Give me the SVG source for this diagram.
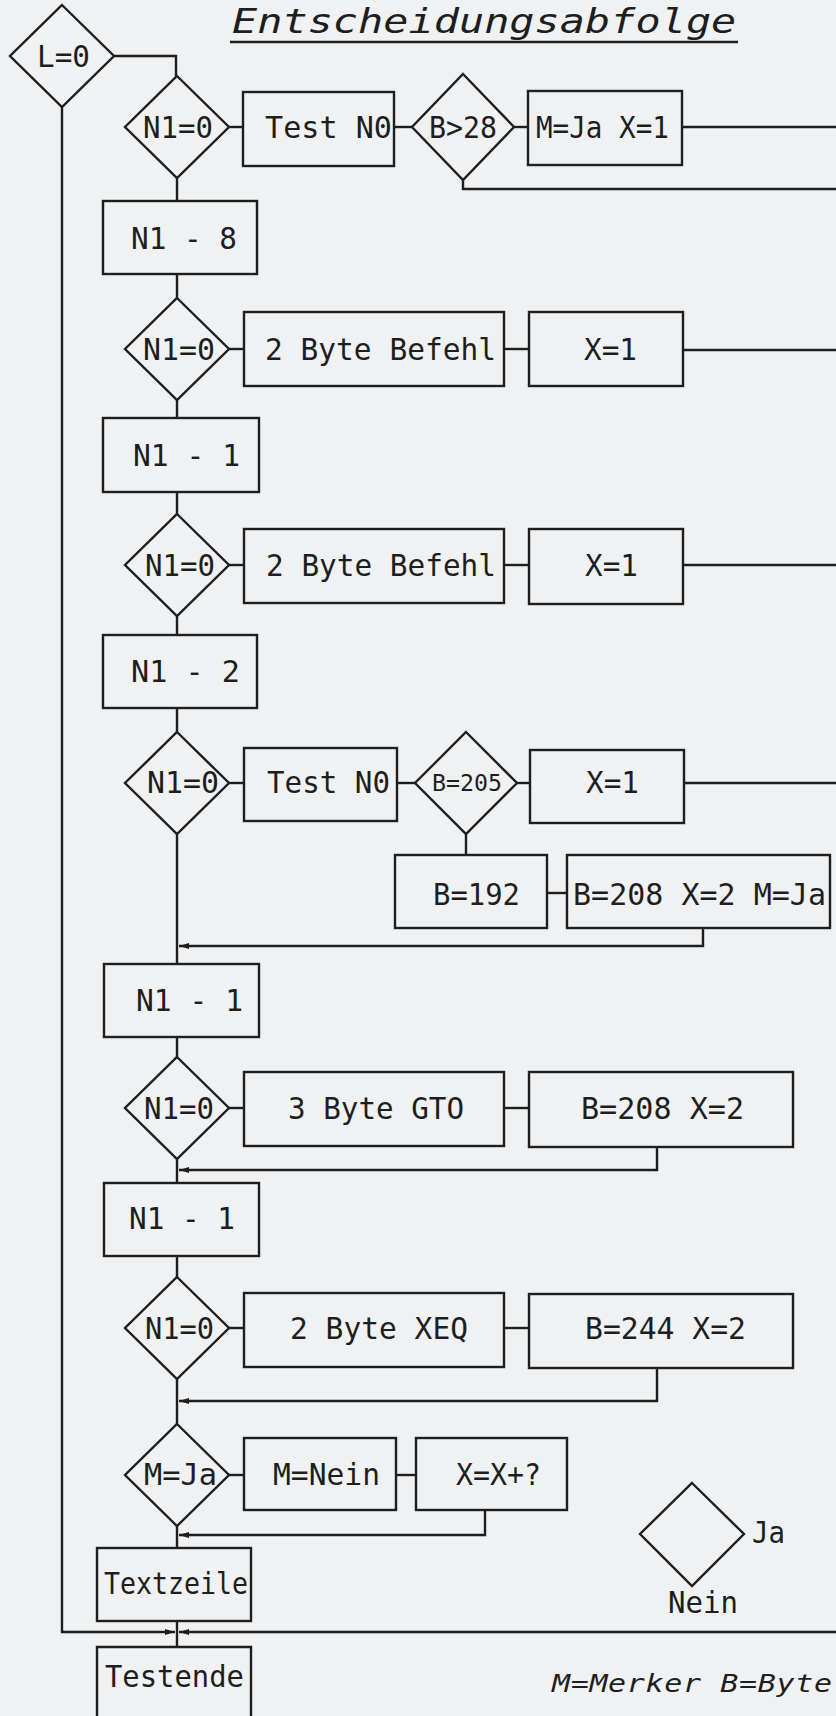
<svg xmlns="http://www.w3.org/2000/svg" width="836" height="1716" viewBox="0 0 836 1716">
<style>
.bg{fill:#eff1f2}
.s{fill:none;stroke:#1e1e1e;stroke-width:2.4;stroke-linejoin:miter}
.c{fill:none;stroke:#1e1e1e;stroke-width:2.4}
.t{font-family:"DejaVu Sans Mono","Liberation Mono",monospace;font-size:31px;fill:#1e1e1e}
.sm{font-size:23px}
.it{font-style:italic}
</style>
<defs>
<marker id="arr" viewBox="0 0 10 6" refX="10" refY="3" markerWidth="10" markerHeight="6" markerUnits="userSpaceOnUse" orient="auto">
<path d="M0,0 L10,3 L0,6 z" fill="#1e1e1e"/>
</marker>
</defs>
<rect class="bg" x="0" y="0" width="836" height="1716"/>

<g id="title">
<text class="t it" transform="translate(232,33) scale(1.23,1)" x="0" y="0" style="font-size:34px" textLength="410" lengthAdjust="spacing">Entscheidungsabfolge</text>
<line class="c" x1="230" y1="42" x2="738" y2="42"/>
</g>

<g id="connectors">
<path class="c" d="M114,56 H176 V76"/>
<path class="c" d="M62,107 V1632 H175" marker-end="url(#arr)"/>
<path class="c" d="M836,1632 H179" marker-end="url(#arr)"/>
<path class="c" d="M177,178 V201"/>
<path class="c" d="M177,274 V298"/>
<path class="c" d="M177,400 V418"/>
<path class="c" d="M177,492 V514"/>
<path class="c" d="M177,616 V635"/>
<path class="c" d="M177,708 V732"/>
<path class="c" d="M177,834 V964"/>
<path class="c" d="M177,1037 V1057"/>
<path class="c" d="M177,1159 V1183"/>
<path class="c" d="M177,1256 V1277"/>
<path class="c" d="M177,1379 V1424"/>
<path class="c" d="M177,1526 V1548"/>
<path class="c" d="M177,1621 V1647"/>
<path class="c" d="M229,127 H243"/>
<path class="c" d="M394,127 H412"/>
<path class="c" d="M514,127 H528"/>
<path class="c" d="M682,127 H836"/>
<path class="c" d="M463,180 V189 H836"/>
<path class="c" d="M229,349 H244"/>
<path class="c" d="M504,349 H529"/>
<path class="c" d="M683,350 H836"/>
<path class="c" d="M229,565 H244"/>
<path class="c" d="M504,565 H529"/>
<path class="c" d="M683,565 H836"/>
<path class="c" d="M229,783 H244"/>
<path class="c" d="M397,783 H415"/>
<path class="c" d="M517,783 H530"/>
<path class="c" d="M684,783 H836"/>
<path class="c" d="M466,834 V855"/>
<path class="c" d="M547,893 H567"/>
<path class="c" d="M703,928 V946 H179" marker-end="url(#arr)"/>
<path class="c" d="M229,1108 H244"/>
<path class="c" d="M504,1108 H529"/>
<path class="c" d="M657,1147 V1170 H179" marker-end="url(#arr)"/>
<path class="c" d="M229,1328 H244"/>
<path class="c" d="M504,1328 H529"/>
<path class="c" d="M657,1368 V1401 H179" marker-end="url(#arr)"/>
<path class="c" d="M229,1475 H244"/>
<path class="c" d="M396,1475 H416"/>
<path class="c" d="M485,1510 V1535 H179" marker-end="url(#arr)"/>
</g>

<g id="n-l0">
<polygon class="s" points="62,5 114,56 62,107 10,56"/>
<text class="t" x="37" y="67" textLength="53" lengthAdjust="spacingAndGlyphs">L=0</text>
</g>

<g id="n-d1">
<polygon class="s" points="177,76 229,127 177,178 125,127"/>
<text class="t" x="143" y="138" textLength="70" lengthAdjust="spacingAndGlyphs">N1=0</text>
</g>
<g id="n-test1">
<rect class="s" x="243" y="92" width="151" height="74"/>
<text class="t" x="265" y="138" textLength="127" lengthAdjust="spacingAndGlyphs">Test N0</text>
</g>
<g id="n-b28">
<polygon class="s" points="463,74 514,127 463,180 412,127"/>
<text class="t" x="429" y="138" textLength="68" lengthAdjust="spacingAndGlyphs">B&gt;28</text>
</g>
<g id="n-mja1">
<rect class="s" x="528" y="91" width="154" height="74"/>
<text class="t" x="536" y="138" textLength="133" lengthAdjust="spacingAndGlyphs">M=Ja X=1</text>
</g>
<g id="n-n18">
<rect class="s" x="103" y="201" width="154" height="73"/>
<text class="t" x="131" y="249" textLength="106" lengthAdjust="spacingAndGlyphs">N1 - 8</text>
</g>

<g id="n-d2">
<polygon class="s" points="177,298 229,349 177,400 125,349"/>
<text class="t" x="143" y="360" textLength="72" lengthAdjust="spacingAndGlyphs">N1=0</text>
</g>
<g id="n-2bb1">
<rect class="s" x="244" y="312" width="260" height="74"/>
<text class="t" x="265" y="360" textLength="231" lengthAdjust="spacingAndGlyphs">2 Byte Befehl</text>
</g>
<g id="n-x1a">
<rect class="s" x="529" y="312" width="154" height="74"/>
<text class="t" x="584" y="360" textLength="53" lengthAdjust="spacingAndGlyphs">X=1</text>
</g>
<g id="n-n11a">
<rect class="s" x="103" y="418" width="156" height="74"/>
<text class="t" x="133" y="466" textLength="107" lengthAdjust="spacingAndGlyphs">N1 - 1</text>
</g>

<g id="n-d3">
<polygon class="s" points="177,514 229,565 177,616 125,565"/>
<text class="t" x="145" y="576" textLength="70" lengthAdjust="spacingAndGlyphs">N1=0</text>
</g>
<g id="n-2bb2">
<rect class="s" x="244" y="529" width="260" height="74"/>
<text class="t" x="266" y="576" textLength="230" lengthAdjust="spacingAndGlyphs">2 Byte Befehl</text>
</g>
<g id="n-x1b">
<rect class="s" x="529" y="529" width="154" height="75"/>
<text class="t" x="585" y="576" textLength="53" lengthAdjust="spacingAndGlyphs">X=1</text>
</g>
<g id="n-n12">
<rect class="s" x="103" y="635" width="154" height="73"/>
<text class="t" x="131" y="682" textLength="109" lengthAdjust="spacingAndGlyphs">N1 - 2</text>
</g>

<g id="n-d4">
<polygon class="s" points="177,732 229,783 177,834 125,783"/>
<text class="t" x="147" y="793" textLength="72" lengthAdjust="spacingAndGlyphs">N1=0</text>
</g>
<g id="n-test2">
<rect class="s" x="244" y="748" width="153" height="73"/>
<text class="t" x="267" y="793" textLength="123" lengthAdjust="spacingAndGlyphs">Test N0</text>
</g>
<g id="n-b205">
<polygon class="s" points="466,732 517,783 466,834 415,783"/>
<text class="t sm" x="432" y="791" textLength="70" lengthAdjust="spacingAndGlyphs">B=205</text>
</g>
<g id="n-x1c">
<rect class="s" x="530" y="750" width="154" height="73"/>
<text class="t" x="586" y="793" textLength="53" lengthAdjust="spacingAndGlyphs">X=1</text>
</g>
<g id="n-b192">
<rect class="s" x="395" y="855" width="152" height="73"/>
<text class="t" x="433" y="905" textLength="87" lengthAdjust="spacingAndGlyphs">B=192</text>
</g>
<g id="n-b208mja">
<rect class="s" x="567" y="855" width="263" height="73"/>
<text class="t" x="573" y="905" textLength="253" lengthAdjust="spacingAndGlyphs">B=208 X=2 M=Ja</text>
</g>
<g id="n-n11b">
<rect class="s" x="104" y="964" width="155" height="73"/>
<text class="t" x="136" y="1011" textLength="107" lengthAdjust="spacingAndGlyphs">N1 - 1</text>
</g>

<g id="n-d5">
<polygon class="s" points="177,1057 229,1108 177,1159 125,1108"/>
<text class="t" x="144" y="1119" textLength="70" lengthAdjust="spacingAndGlyphs">N1=0</text>
</g>
<g id="n-gto">
<rect class="s" x="244" y="1072" width="260" height="74"/>
<text class="t" x="288" y="1119" textLength="176" lengthAdjust="spacingAndGlyphs">3 Byte GTO</text>
</g>
<g id="n-b208">
<rect class="s" x="529" y="1072" width="264" height="75"/>
<text class="t" x="581" y="1119" textLength="163" lengthAdjust="spacingAndGlyphs">B=208 X=2</text>
</g>
<g id="n-n11c">
<rect class="s" x="104" y="1183" width="155" height="73"/>
<text class="t" x="129" y="1229" textLength="106" lengthAdjust="spacingAndGlyphs">N1 - 1</text>
</g>

<g id="n-d6">
<polygon class="s" points="177,1277 229,1328 177,1379 125,1328"/>
<text class="t" x="145" y="1339" textLength="69" lengthAdjust="spacingAndGlyphs">N1=0</text>
</g>
<g id="n-xeq">
<rect class="s" x="244" y="1293" width="260" height="74"/>
<text class="t" x="290" y="1339" textLength="178" lengthAdjust="spacingAndGlyphs">2 Byte XEQ</text>
</g>
<g id="n-b244">
<rect class="s" x="529" y="1294" width="264" height="74"/>
<text class="t" x="585" y="1339" textLength="161" lengthAdjust="spacingAndGlyphs">B=244 X=2</text>
</g>

<g id="n-mja">
<polygon class="s" points="177,1424 229,1475 177,1526 125,1475"/>
<text class="t" x="144" y="1485" textLength="73" lengthAdjust="spacingAndGlyphs">M=Ja</text>
</g>
<g id="n-mnein">
<rect class="s" x="244" y="1438" width="152" height="72"/>
<text class="t" x="273" y="1485" textLength="107" lengthAdjust="spacingAndGlyphs">M=Nein</text>
</g>
<g id="n-xx">
<rect class="s" x="416" y="1438" width="151" height="72"/>
<text class="t" x="456" y="1485" textLength="85" lengthAdjust="spacingAndGlyphs">X=X+?</text>
</g>
<g id="n-textzeile">
<rect class="s" x="97" y="1548" width="154" height="73"/>
<text class="t" x="104" y="1594" textLength="144" lengthAdjust="spacingAndGlyphs">Textzeile</text>
</g>
<g id="n-testende">
<path class="s" d="M97,1730 V1647 H251 V1730"/>
<text class="t" x="105" y="1687" textLength="139" lengthAdjust="spacingAndGlyphs">Testende</text>
</g>

<g id="legend">
<polygon class="s" points="692,1483 744,1534 692,1586 640,1534"/>
<text class="t" x="752" y="1543" textLength="33" lengthAdjust="spacingAndGlyphs">Ja</text>
<text class="t" x="668" y="1613" textLength="70" lengthAdjust="spacingAndGlyphs">Nein</text>
<text class="t it" transform="translate(552,1692) scale(1.25,1)" x="0" y="0" style="font-size:24px" textLength="224" lengthAdjust="spacing">M=Merker B=Byte</text>
</g>
</svg>
